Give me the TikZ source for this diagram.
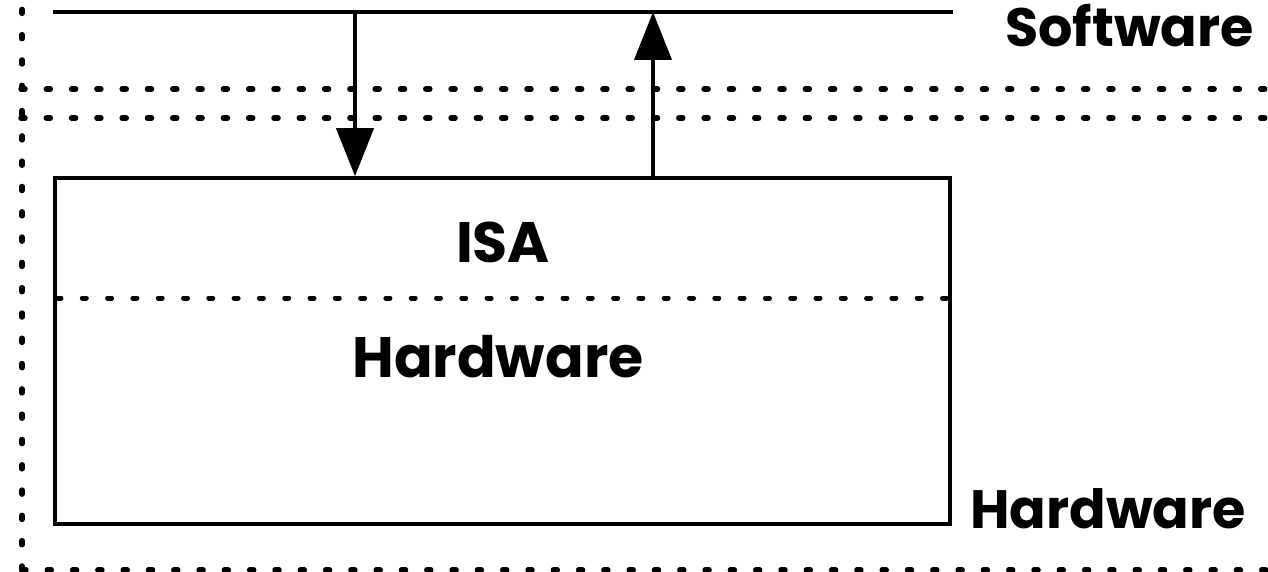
\documentclass[tikz,border=0pt]{standalone}
\usepackage{fontspec}
\setmainfont{Poppins}
\usetikzlibrary{arrows.meta}
\begin{document}
\begin{tikzpicture}[x=1pt,y=-1pt,
  dots/.style={line width=5.5pt, line cap=round, dash pattern=on 4pt off 21.3pt},
  solidline/.style={line width=4pt},
  arr/.style={line width=4pt, -{Triangle[length=48pt,width=37pt]}},
  lbl/.style={font=\bfseries\fontsize{54}{60}\selectfont, inner sep=0pt},
  inlbl/.style={font=\bfseries\fontsize{57}{64}\selectfont, inner sep=0pt}]
\useasboundingbox (0,0) rectangle (1268,572);
% outer dotted frame
\coordinate (vtop) at (22,0);
\coordinate (vbot) at (22,570);
\coordinate (hend) at (1268,570);
\draw[dots] (vbot) -- (vtop);
\draw[dots] (vbot) -- (hend);
\coordinate (s1l) at (21,89);
\coordinate (s1r) at (1268,89);
\coordinate (s2l) at (21,118);
\coordinate (s2r) at (1268,118);
\draw[dots] (s1l) -- (s1r);
\draw[dots] (s2l) -- (s2r);
% top line
\coordinate (tl) at (53,12);
\coordinate (tr) at (953,12);
\draw[solidline] (tl) -- (tr);
% box
\node[draw, line width=3.5pt, minimum width=895pt, minimum height=346pt, inner sep=0pt] (box) at (502.5,351) {};
\coordinate (il) at (57,298);
\coordinate (ir) at (948,298);
\draw[dots, line width=5pt] (il) -- (ir);
% arrows
\coordinate (d1) at (355,12);
\coordinate (u1) at (653,12);
\draw[arr] (d1) -- (d1 |- box.north);
\draw[arr] (u1 |- box.north) -- (u1);
% labels
\node[lbl, anchor=base west] (sw) at (1005,47) {Software};
\node[lbl, anchor=base west] (hw) at (970,528) {Hardware};
\node[inlbl, anchor=base] (isa) at (503,262) {ISA};
\node[inlbl, anchor=base] (ihw) at (498,377) {Hardware};
\end{tikzpicture}
\end{document}
